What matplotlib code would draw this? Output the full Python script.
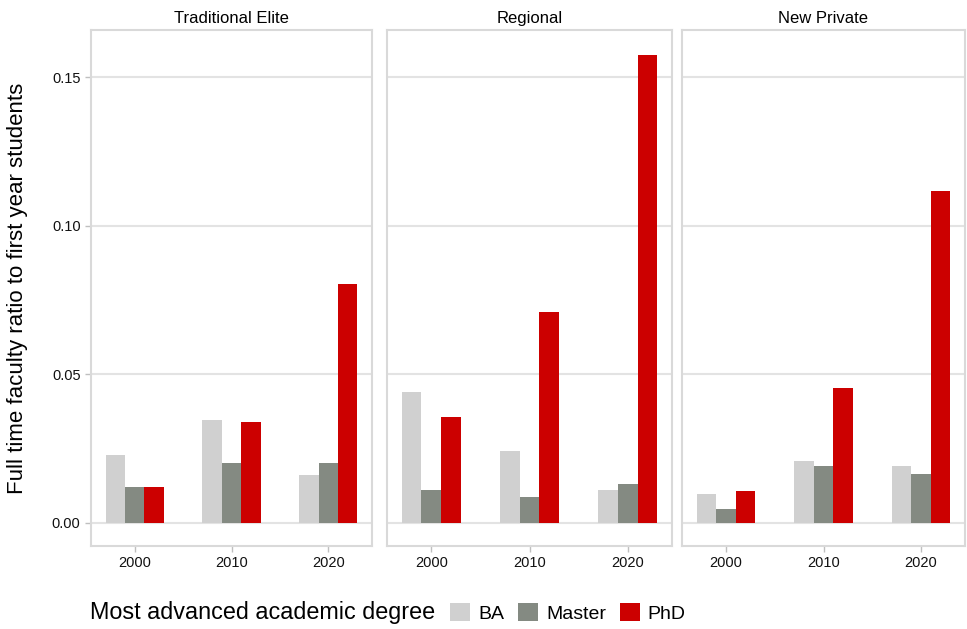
import numpy as np
import matplotlib
matplotlib.use("Agg")
from matplotlib import pyplot as plt
from matplotlib.patches import Patch

plt.rcParams['font.family'] = ['Liberation Sans', 'DejaVu Sans']

# data
panels = ["Traditional Elite", "Regional", "New Private"]
years = ["2000", "2010", "2020"]
degrees = ["BA", "Master", "PhD"]
colors = ["#d0d0d0", "#848a82", "#cc0000"]

ba_vals = [[0.0227, 0.0346, 0.0159],
           [0.0441, 0.0241, 0.0109],
           [0.0096, 0.0209, 0.0190]]
master_vals = [[0.0119, 0.0200, 0.0200],
               [0.0109, 0.0085, 0.0130],
               [0.0045, 0.0190, 0.0165]]
phd_vals = [[0.0119, 0.0338, 0.0803],
            [0.0357, 0.0708, 0.1576],
            [0.0105, 0.0453, 0.1119]]
yticks = [0.00, 0.05, 0.10, 0.15]

series = [ba_vals, master_vals, phd_vals]
grid_col = "#e3e3e3"

fig = plt.figure(figsize=(9.67, 6.29), dpi=100)
W, H = 967, 629
bounds = [(91, 372), (387, 672), (682, 965)]
top, bottom = 30, 546

x = np.arange(len(years))
bw = 0.2
for p, (l, r) in enumerate(bounds):
    ax = fig.add_axes([l / W, 1 - bottom / H, (r - l) / W, (bottom - top) / H])
    for k in range(len(degrees)):
        ax.bar(x + (k - 1) * bw, series[k][p], width=bw, color=colors[k], zorder=2)
    ax.set_xlim(-0.45, 2.45)
    ax.set_ylim(-0.0079, 0.166)
    ax.set_yticks(yticks)
    ax.set_xticks(x)
    ax.set_xticklabels(years)
    ax.grid(axis='y', color=grid_col, linewidth=1.5, zorder=0)
    for s in ax.spines.values():
        s.set_color("#d9d9d9")
        s.set_linewidth(1.5)
    ax.tick_params(axis='both', colors="#bfbfbf", length=4, width=1,
                   labelcolor="#111111", labelsize=10.5)
    if p == 0:
        ax.set_yticklabels(["%.2f" % v for v in yticks])
        ax.set_ylabel("Full time faculty ratio to first year students", fontsize=16, labelpad=17)
    else:
        ax.tick_params(axis='y', left=False, labelleft=False)
    ax.set_title(panels[p], fontsize=12, pad=5)

fig.text(90 / W, 1 - 613 / H, "Most advanced academic degree", fontsize=16.8, va='center', ha='left')
handles = [Patch(facecolor=c, edgecolor='none') for c in colors]
fig.legend(handles, degrees, loc='center left', bbox_to_anchor=(450 / W, 1 - 613 / H),
           ncol=3, frameon=False, fontsize=14, handlelength=1.05, handleheight=1.05,
           handletextpad=0.4, columnspacing=0.7, borderaxespad=0, borderpad=0)

fig.savefig("out.png", dpi=100, facecolor='white')
